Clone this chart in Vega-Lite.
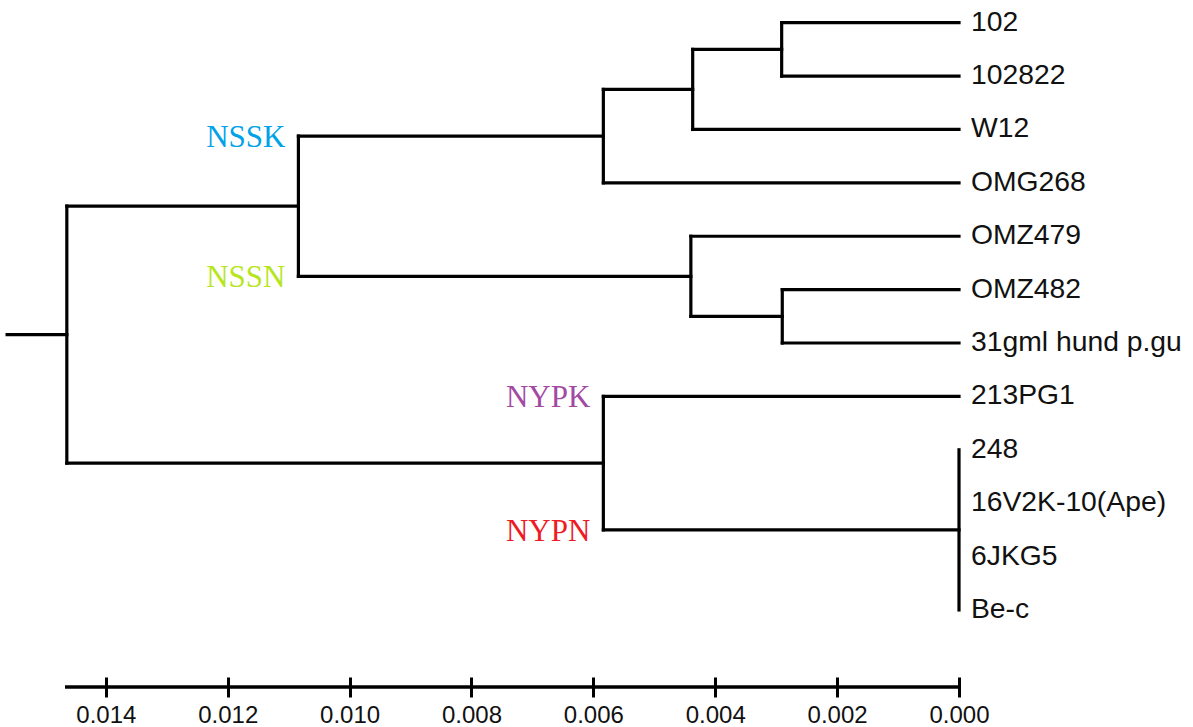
{
  "$schema": "https://vega.github.io/schema/vega-lite/v6.json",
  "width": 894,
  "height": 687,
  "autosize": {"type": "none"},
  "padding": {"left": 65, "top": 0, "right": 234, "bottom": 40},
  "background": "white",
  "config": {"view": {"stroke": null}},
  "datasets": {
    "edges": [
      {"from": 0.00291, "to": 0, "y": 0, "y2": 0},
      {"from": 0.00291, "to": 0, "y": 1, "y2": 1},
      {"from": 0.00437, "to": 0, "y": 2, "y2": 2},
      {"from": 0.005836, "to": 0, "y": 3, "y2": 3},
      {"from": 0.0044, "to": 0, "y": 4, "y2": 4},
      {"from": 0.0029, "to": 0, "y": 5, "y2": 5},
      {"from": 0.0029, "to": 0, "y": 6, "y2": 6},
      {"from": 0.005836, "to": 0, "y": 7, "y2": 7},
      {"from": 0.005836, "to": 0, "y": 9.5, "y2": 9.5},
      {"from": 0.00437, "to": 0.00291, "y": 0.5, "y2": 0.5},
      {"from": 0.005836, "to": 0.00437, "y": 1.25, "y2": 1.25},
      {"from": 0.01084, "to": 0.005836, "y": 2.125, "y2": 2.125},
      {"from": 0.0044, "to": 0.0029, "y": 5.5, "y2": 5.5},
      {"from": 0.01084, "to": 0.0044, "y": 4.75, "y2": 4.75},
      {"from": 0.01464, "to": 0.01084, "y": 3.4375, "y2": 3.4375},
      {"from": 0.01464, "to": 0.005836, "y": 8.25, "y2": 8.25},
      {"from": 0.01562, "to": 0.01464, "y": 5.84375, "y2": 5.84375},
      {"from": 0.00291, "to": 0.00291, "y": 0, "y2": 1},
      {"from": 0.00437, "to": 0.00437, "y": 0.5, "y2": 2},
      {"from": 0.005836, "to": 0.005836, "y": 1.25, "y2": 3},
      {"from": 0.0029, "to": 0.0029, "y": 5, "y2": 6},
      {"from": 0.0044, "to": 0.0044, "y": 4, "y2": 5.5},
      {"from": 0.01084, "to": 0.01084, "y": 2.125, "y2": 4.75},
      {"from": 0, "to": 0, "y": 8, "y2": 11},
      {"from": 0.005836, "to": 0.005836, "y": 7, "y2": 9.5},
      {"from": 0.01464, "to": 0.01464, "y": 3.4375, "y2": 8.25}
    ],
    "leaves": [
      {"name": "102", "h": 0, "y": 0},
      {"name": "102822", "h": 0, "y": 1},
      {"name": "W12", "h": 0, "y": 2},
      {"name": "OMG268", "h": 0, "y": 3},
      {"name": "OMZ479", "h": 0, "y": 4},
      {"name": "OMZ482", "h": 0, "y": 5},
      {"name": "31gml hund p.gu", "h": 0, "y": 6},
      {"name": "213PG1", "h": 0, "y": 7},
      {"name": "248", "h": 0, "y": 8},
      {"name": "16V2K-10(Ape)", "h": 0, "y": 9},
      {"name": "6JKG5", "h": 0, "y": 10},
      {"name": "Be-c", "h": 0, "y": 11}
    ],
    "clades": [
      {"label": "NSSK", "h": 0.01084, "y": 2.125},
      {"label": "NSSN", "h": 0.01084, "y": 4.75},
      {"label": "NYPK", "h": 0.005836, "y": 7},
      {"label": "NYPN", "h": 0.005836, "y": 9.5}
    ]
  },
  "layer": [
    {
      "data": {"name": "edges"},
      "mark": {"type": "rule", "stroke": "black", "strokeWidth": 3.2, "strokeCap": "square"},
      "encoding": {
        "x": {
          "field": "from", "type": "quantitative",
          "scale": {"domain": [0, 0.01467], "reverse": true, "nice": false, "zero": false},
          "axis": {
            "values": [0, 0.002, 0.004, 0.006, 0.008, 0.01, 0.012, 0.014],
            "format": ".3f",
            "orient": "bottom",
            "offset": -10,
            "domain": false,
            "grid": false,
            "title": null,
            "ticks": true,
            "tickSize": 20,
            "tickWidth": 3,
            "tickColor": "black",
            "labelPadding": 6,
            "labelFont": "Liberation Sans",
            "labelFontSize": 24,
            "labelColor": "#111111",
            "labelFlush": false,
            "labelOverlap": false
          }
        },
        "x2": {"field": "to"},
        "y": {
          "field": "y", "type": "quantitative",
          "scale": {"domain": [-0.425, 12.443], "reverse": true, "nice": false, "zero": false},
          "axis": null
        },
        "y2": {"field": "y2"}
      }
    },
    {
      "data": {"values": [{}]},
      "mark": {"type": "rule", "stroke": "black", "strokeWidth": 3.5},
      "encoding": {
        "x": {"datum": 0.01467, "type": "quantitative"},
        "x2": {"datum": 0},
        "y": {"datum": 12.443, "type": "quantitative"}
      }
    },
    {
      "data": {"name": "leaves"},
      "mark": {"type": "text", "align": "left", "baseline": "middle", "dx": 12, "font": "Liberation Sans", "fontSize": 28.3, "fill": "#111111"},
      "encoding": {
        "x": {"field": "h", "type": "quantitative"},
        "y": {"field": "y", "type": "quantitative"},
        "text": {"field": "name", "type": "nominal"}
      }
    },
    {
      "data": {"name": "clades"},
      "mark": {"type": "text", "align": "right", "baseline": "middle", "dx": -13, "dy": 2, "font": "Liberation Serif", "fontSize": 31},
      "encoding": {
        "x": {"field": "h", "type": "quantitative"},
        "y": {"field": "y", "type": "quantitative"},
        "text": {"field": "label", "type": "nominal"},
        "color": {
          "field": "label", "type": "nominal",
          "scale": {"domain": ["NSSK", "NSSN", "NYPK", "NYPN"], "range": ["#00A2E8", "#B5E61D", "#A349A4", "#ED1C24"]},
          "legend": null
        }
      }
    }
  ]
}
